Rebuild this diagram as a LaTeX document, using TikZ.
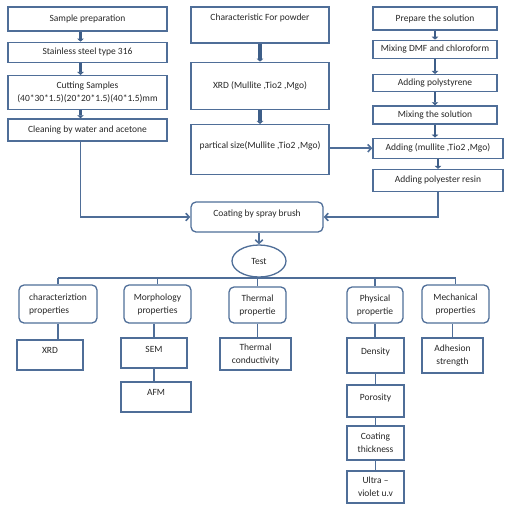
\documentclass[tikz,border=0pt]{standalone}
\usepackage{fontspec}
\setmainfont{Carlito}
\usepackage{xcolor}
\definecolor{boxline}{HTML}{4F6E98}
\definecolor{arrowdark}{HTML}{3E5E88}
\tikzset{
  box/.style={draw=boxline, line width=1.3pt, align=center,
              inner sep=2pt, text=black!85},
  roundbox/.style={box, rounded corners=5pt},
  textup/.style={text depth=#1},
  stackarrow/.style={-{Triangle[length=3pt,width=6.5pt]}, line width=2.6pt, draw=arrowdark},
  arrow/.style={-{Straight Barb[length=3.5pt,width=7.5pt]}, line width=1.6pt, draw=boxline},
  link/.style={line width=1.6pt, draw=boxline}
}
\usetikzlibrary{positioning, shapes.geometric, arrows.meta}

\begin{document}
\begin{tikzpicture}[x=1pt, y={(0pt,-1pt)}, font=\fontsize{9.5}{13}\selectfont]
    \useasboundingbox (0,0) rectangle (513,512);

    % sample side
    \node[box, minimum width=159pt, minimum height=24pt] (prep) at (87.5,19) {Sample preparation};
    \node[box, minimum width=159pt, minimum height=20pt, below=10pt of prep] (steel) {Stainless steel type 316};
    \node[box, minimum width=159pt, minimum height=34pt, below=12pt of steel] (cut) {Cutting Samples\\(40*30*1.5)(20*20*1.5)(40*1.5)mm};
    \node[box, minimum width=159pt, minimum height=22pt, below=8pt of cut] (clean) {Cleaning by water and acetone};

    % powder side
    \node[box, minimum width=138pt, minimum height=36pt, textup=16pt] (powder) at (260,25) {Characteristic For powder};
    \node[box, minimum width=138pt, minimum height=47pt, below=18pt of powder] (xrd) {XRD (Mullite ,Tio2 ,Mgo)};
    \node[box, minimum width=138pt, minimum height=50pt, textup=10pt, below=14pt of xrd] (size) {partical size(Mullite ,Tio2 ,Mgo)};

    % solution side
    \node[box, minimum width=124pt, minimum height=23pt] (solution) at (435,18.5) {Prepare the solution};
    \node[box, minimum width=124pt, minimum height=18pt, below=9pt of solution] (dmf) {Mixing DMF and chloroform};
    \node[box, minimum width=124pt, minimum height=17pt, below=15pt of dmf] (styrene) {Adding polystyrene};
    \node[box, minimum width=124pt, minimum height=18pt, below=13pt of styrene] (mixing) {Mixing the solution};
    \node[box, minimum width=130pt, minimum height=20pt, below=13pt of mixing, xshift=3pt] (oxides) {Adding (mullite ,Tio2 ,Mgo)};
    \node[box, minimum width=130pt, minimum height=22pt, below=10pt of oxides] (resin) {Adding polyester resin};

    % coating and test
    \node[roundbox, minimum width=132pt, minimum height=30pt, textup=8pt] (coating) at (257,217) {Coating by spray brush};
    \node[draw=boxline, line width=1.3pt, ellipse, minimum width=54pt, minimum height=32pt, inner sep=0pt, text=black!85] (test) at (259,261) {Test};
    \coordinate (bus) at (259,278);

    \node[roundbox, minimum width=78pt, minimum height=38pt, align=left] (charprop) at (58,304) {characteriztion\\properties};
    \node[roundbox, minimum width=67pt, minimum height=38pt] (morph) at (157.5,304) {Morphology\\properties};
    \node[roundbox, minimum width=57pt, minimum height=36pt] (thermal) at (257.5,305) {Thermal\\propertie};
    \node[roundbox, minimum width=56pt, minimum height=36pt] (physical) at (375,305) {Physical\\propertie};
    \node[roundbox, minimum width=67pt, minimum height=38pt] (mech) at (455.5,304) {Mechanical\\properties};

    \node[box, minimum width=66pt, minimum height=30pt, textup=10pt] (xrdtest) at (50,355) {XRD};
    \node[box, minimum width=66pt, minimum height=30pt, textup=8pt] (sem) at (154,353) {SEM};
    \node[box, minimum width=70pt, minimum height=30pt, textup=10pt] (afm) at (156,397) {AFM};
    \node[box, minimum width=71pt, minimum height=32pt] (conduct) at (255.5,354) {Thermal\\conductivity};
    \node[box, minimum width=57pt, minimum height=35pt, textup=9pt] (density) at (375.5,355.5) {Density};
    \node[box, minimum width=57pt, minimum height=32pt, textup=8pt] (porosity) at (375.5,401) {Porosity};
    \node[box, minimum width=57pt, minimum height=34pt] (thickness) at (375.5,443) {Coating\\thickness};
    \node[box, minimum width=57pt, minimum height=32pt] (uv) at (375.5,487) {Ultra --\\violet u.v};
    \node[box, minimum width=61pt, minimum height=35pt] (adhesion) at (452.5,355.5) {Adhesion\\strength};

    \draw[stackarrow] ([xshift=-7pt]prep.south) -- ([xshift=-7pt]steel.north);
    \draw[stackarrow] ([xshift=-7pt]steel.south) -- ([xshift=-7pt]cut.north);
    \draw[stackarrow] ([xshift=-7pt]cut.south) -- ([xshift=-7pt]clean.north);
    \draw[stackarrow, line width=3.2pt] (powder) -- (xrd);
    \draw[stackarrow, line width=3.2pt] (xrd) -- (size);
    \draw[stackarrow] (solution) -- (dmf);
    \draw[stackarrow] (dmf) -- (styrene);
    \draw[stackarrow] (styrene) -- (mixing);
    \draw[stackarrow] (mixing.south) -- (mixing.south |- oxides.north);
    \draw[stackarrow] (oxides) -- (resin);

    \draw[arrow] (size.east |- oxides) -- (oxides.west);
    \draw[arrow] ([xshift=-7pt]clean.south) |- (coating.west);
    \draw[arrow] (resin.south) |- (coating.east);
    \draw[arrow] (coating.south -| test.north) -- (test.north);

    \draw[link, line width=1.9pt] (charprop.north |- bus) -- (mech.north |- bus);
    \foreach \n in {charprop, morph, thermal, physical, mech}
        \draw[link] (\n.north) -- (\n.north |- bus);

    \draw[link] (charprop.south) -- (charprop.south |- xrdtest.north);
    \draw[link] (sem.north) -- (sem.north |- morph.south);
    \draw[link] (sem.south) -- (sem.south |- afm.north);
    \draw[link] (thermal.south) -- (thermal.south |- conduct.north);
    \draw[link] (physical.south) -- (physical.south |- density.north);
    \draw[link] (adhesion.north) -- (adhesion.north |- mech.south);
    \draw[link] (density) -- (porosity);
    \draw[link] (porosity) -- (thickness);
    \draw[link] (thickness) -- (uv);
\end{tikzpicture}
\end{document}
